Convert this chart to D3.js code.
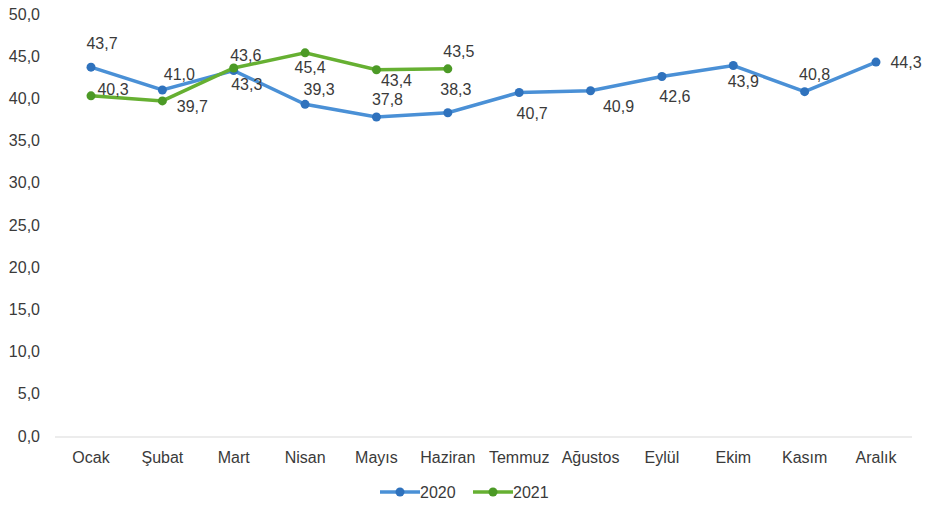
<!DOCTYPE html>
<html>
<head>
<meta charset="utf-8">
<script src="https://cdn.jsdelivr.net/npm/d3@7"></script>
<style>
  body { margin: 0; background: #fff; font-family: "Liberation Sans", Arial, sans-serif; }
</style>
</head>
<body>
<script>
const months = ["Ocak", "Şubat", "Mart", "Nisan", "Mayıs", "Haziran", "Temmuz", "Ağustos", "Eylül", "Ekim", "Kasım", "Aralık"];
const values2020 = [43.7, 41.0, 43.3, 39.3, 37.8, 38.3, 40.7, 40.9, 42.6, 43.9, 40.8, 44.3];
const values2021 = [40.3, 39.7, 43.6, 45.4, 43.4, 43.5];
const yTicks = [0, 5, 10, 15, 20, 25, 30, 35, 40, 45, 50];

// label placement relative to each point (center of the text)
const offsets2020 = [[11, -24], [17, -15], [13, 14], [14, -15], [11, -17], [8, -23], [13, 21], [28, 16], [13, 20], [10, 16], [10, -17], [30, 0]];
const offsets2021 = [[22, -6], [30, 6], [12, -13], [5, 15], [20, 11], [11, -17]];

const w = 926, h = 505;
const svg = d3.select("body").append("svg").attr("width", w).attr("height", h);

const x = d3.scalePoint().domain(months).range([91, 876]);
const y = d3.scaleLinear().domain([0, 50]).range([436, 14]);
const fmt = d => d.toFixed(1).replace(".", ",");
const FS = "16px";
const TXT = "#3a3a3a";

// y axis labels
svg.append("g")
   .selectAll("text")
   .data(yTicks)
   .enter()
   .append("text")
   .attr("x", 40)
   .attr("y", d => y(d) + 5.5)
   .attr("text-anchor", "end")
   .style("font-size", FS)
   .style("fill", TXT)
   .text(fmt)

// baseline
svg.append("line")
   .attr("x1", 55).attr("x2", 912)
   .attr("y1", 437).attr("y2", 437)
   .attr("stroke", "#d9d9d9")
   .attr("stroke-width", 1.2)

// x labels
svg.append("g")
   .selectAll("text")
   .data(months)
   .enter()
   .append("text")
   .attr("x", d => x(d))
   .attr("y", 463)
   .attr("text-anchor", "middle")
   .style("font-size", FS)
   .style("fill", TXT)
   .text(d => d)

const series = [
  { name: "2020", vals: values2020, off: offsets2020, line: "#4a90d6", dot: "#2f72bd" },
  { name: "2021", vals: values2021, off: offsets2021, line: "#66b032", dot: "#4c9a26" }
];

const line = d3.line().x((d, i) => x(months[i])).y(d => y(d));

series.forEach(s => {
  svg.append("path")
     .datum(s.vals)
     .attr("d", line)
     .attr("fill", "none")
     .attr("stroke", s.line)
     .attr("stroke-width", 3.5)

  svg.append("g")
     .selectAll("circle")
     .data(s.vals)
     .enter()
     .append("circle")
     .attr("cx", (d, i) => x(months[i]))
     .attr("cy", d => y(d))
     .attr("r", 4.5)
     .attr("fill", s.dot)
})

series.forEach(s => {
  svg.append("g")
     .selectAll("text")
     .data(s.vals)
     .enter()
     .append("text")
     .attr("x", (d, i) => x(months[i]) + s.off[i][0])
     .attr("y", (d, i) => y(d) + s.off[i][1] + 5.5)
     .attr("text-anchor", "middle")
     .style("font-size", FS)
     .style("fill", TXT)
     .text(fmt)
})

// legend
const legend = svg.append("g")
                  .selectAll("g")
                  .data(series)
                  .enter()
                  .append("g")
                  .attr("transform", (d, i) => "translate(" + (380 + i * 93) + ", 492)")

      legend.append("line")
            .attr("x1", 0).attr("x2", 40)
            .attr("stroke", d => d.line)
            .attr("stroke-width", 3.5)
      legend.append("circle")
            .attr("cx", 20)
            .attr("r", 4.5)
            .attr("fill", d => d.dot)
      legend.append("text")
            .attr("x", 40)
            .attr("y", 5.5)
            .style("font-size", FS)
            .style("fill", TXT)
            .text(d => d.name)
</script>
</body>
</html>
